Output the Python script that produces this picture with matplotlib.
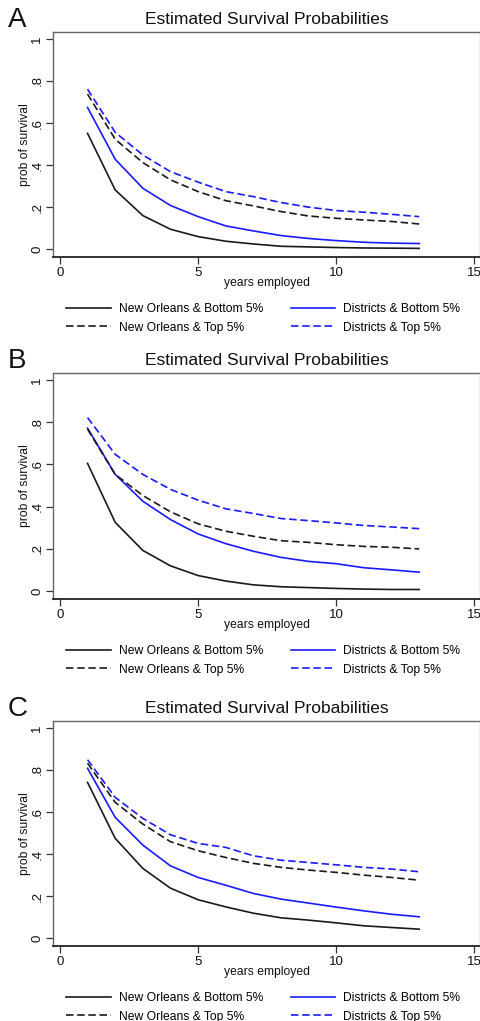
import matplotlib
matplotlib.use("Agg")
import matplotlib.pyplot as plt
import numpy as np

plt.rcParams['font.family'] = ['Liberation Sans', 'DejaVu Sans']

years = [1, 2, 3, 4, 5, 6, 7, 8, 9, 10, 11, 12, 13]

series_labels = ["New Orleans & Bottom 5%", "Districts & Bottom 5%",
                 "New Orleans & Top 5%", "Districts & Top 5%"]

# Panel A
a_no_bottom = [0.551, 0.282, 0.160, 0.095, 0.060, 0.038, 0.025, 0.014, 0.011, 0.008, 0.006, 0.005, 0.004]
a_dist_bottom = [0.674, 0.428, 0.290, 0.208, 0.155, 0.111, 0.087, 0.065, 0.051, 0.041, 0.033, 0.029, 0.027]
a_no_top = [0.738, 0.523, 0.412, 0.330, 0.274, 0.231, 0.206, 0.179, 0.158, 0.147, 0.139, 0.132, 0.120]
a_dist_top = [0.761, 0.556, 0.448, 0.369, 0.319, 0.274, 0.250, 0.222, 0.200, 0.184, 0.176, 0.166, 0.155]

# Panel B
b_no_bottom = [0.605, 0.326, 0.193, 0.120, 0.074, 0.048, 0.030, 0.021, 0.017, 0.013, 0.010, 0.008, 0.008]
b_dist_bottom = [0.772, 0.553, 0.426, 0.339, 0.271, 0.225, 0.189, 0.160, 0.141, 0.130, 0.111, 0.101, 0.090]
b_no_top = [0.767, 0.553, 0.453, 0.376, 0.319, 0.284, 0.260, 0.239, 0.231, 0.220, 0.212, 0.208, 0.200]
b_dist_top = [0.822, 0.648, 0.553, 0.482, 0.431, 0.390, 0.368, 0.344, 0.334, 0.323, 0.311, 0.304, 0.296]

# Panel C
c_no_bottom = [0.741, 0.475, 0.332, 0.238, 0.183, 0.149, 0.119, 0.097, 0.086, 0.073, 0.059, 0.051, 0.043]
c_dist_bottom = [0.808, 0.575, 0.443, 0.344, 0.289, 0.252, 0.213, 0.186, 0.167, 0.148, 0.130, 0.114, 0.102]
c_no_top = [0.832, 0.646, 0.543, 0.459, 0.416, 0.384, 0.356, 0.337, 0.324, 0.313, 0.300, 0.289, 0.276]
c_dist_top = [0.849, 0.670, 0.570, 0.492, 0.451, 0.432, 0.392, 0.371, 0.360, 0.349, 0.337, 0.329, 0.316]

panel_letters = ["A", "B", "C"]
panel_data = [
    [a_no_bottom, a_dist_bottom, a_no_top, a_dist_top],
    [b_no_bottom, b_dist_bottom, b_no_top, b_dist_top],
    [c_no_bottom, c_dist_bottom, c_no_top, c_dist_top],
]

x_ticks = [0, 5, 10, 15]
y_ticks = [0, 0.2, 0.4, 0.6, 0.8, 1.0]
y_ticklabels = ["0", ".2", ".4", ".6", ".8", "1"]

W, H = 481, 1021
fig = plt.figure(figsize=(W / 100, H / 100), dpi=100)

black = '#1a1a1a'
blue = '#1a1aff'
styles = [(black, '-'), (blue, '-'), (black, (0, (4.5, 2.2))), (blue, (0, (4.5, 2.2)))]

# axes pixel boxes (left, top, right, bottom)
boxes = [(53, 32, 480, 257), (53, 373, 480, 599), (53, 721, 480, 946)]

for letter, data, (l, t, r, b) in zip(panel_letters, panel_data, boxes):
    ax = fig.add_axes([l / W, 1 - b / H, (r - l) / W, (b - t) / H])
    handles = []
    for vals, (col, ls) in zip(data, styles):
        h, = ax.plot(years, vals, color=col, linestyle=ls, linewidth=1.2)
        handles.append(h)
    ax.set_xlim(-0.25, 15.2)
    ax.set_ylim(-0.037, 1.033)
    ax.set_xticks(x_ticks)
    ax.set_xticklabels([str(v) for v in x_ticks])
    ax.set_yticks(y_ticks)
    ax.set_yticklabels(y_ticklabels, rotation=90, va='center')
    ax.tick_params(direction='out', length=5, width=0.9, colors='#333333',
                   labelsize=9.5, labelcolor='#111111', pad=2)
    for s in ['left', 'top', 'right']:
        ax.spines[s].set_color('#666666')
        ax.spines[s].set_linewidth(1.0)
    ax.spines['right'].set_color('#bbbbbb')
    ax.spines['bottom'].set_color('#222222')
    ax.spines['bottom'].set_linewidth(1.3)
    ax.set_xlabel("years employed", fontsize=8.7, color='#111111', va='center')
    ax.xaxis.set_label_coords((267 - l) / (r - l), -26 / (b - t))
    ax.set_ylabel("prob of survival", fontsize=8.7, color='#111111', va='center')
    ax.yaxis.set_label_coords(-(l - 25) / (r - l), 0.5)
    ax.set_title("Estimated Survival Probabilities", fontsize=12.5, pad=6, color='#111111')
    fig.text(8 / W, 1 - (t - 12) / H, letter, fontsize=20, va='center', ha='left', color='#111111')
    order = [0, 2, 1, 3]
    leg = fig.legend([handles[i] for i in order], [series_labels[i] for i in order],
                     ncol=2, frameon=False, fontsize=8.7,
                     loc='upper left', bbox_to_anchor=(66 / W, 1 - (b + 46) / H),
                     handlelength=3.7, handletextpad=0.65, columnspacing=2.3,
                     labelspacing=0.55, borderaxespad=0, borderpad=0)

fig.savefig("out.png", dpi=100, facecolor='white')
